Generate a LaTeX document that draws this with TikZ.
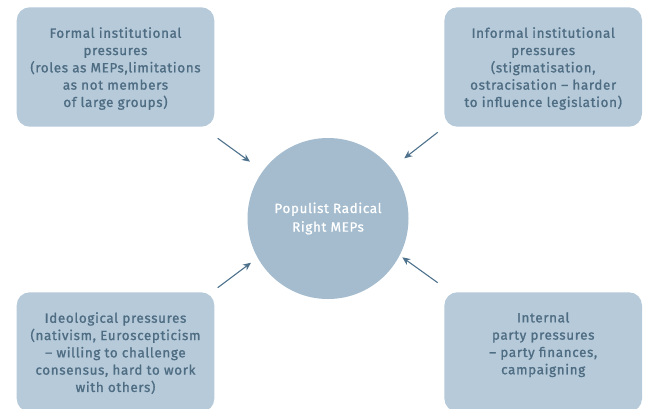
\documentclass[tikz,border=0pt]{standalone}
\usepackage{fontspec}
\setmainfont{Fira Sans}[LetterSpace=5.0, FakeBold=1.2]
\usepackage{tikz}
\usetikzlibrary{arrows.meta,positioning,calc}
\definecolor{prfill}{RGB}{182,202,218}
\definecolor{prhub}{RGB}{164,188,206}
\definecolor{prtext}{RGB}{78,108,130}
\definecolor{prarrow}{RGB}{78,114,140}
\tikzset{
  pbox/.style={fill=prfill, rounded corners=13pt, inner sep=0pt,
               minimum width=197.6pt, minimum height=119.4pt},
  ptext/.style={anchor=north, inner sep=0pt, align=center, text=prtext,
                font=\fontsize{13.4}{17.3}\selectfont},
  hub/.style={circle, fill=prhub, minimum size=161pt, inner sep=0pt,
              align=center, text=white, font=\fontsize{13.4}{18.6}\selectfont},
  pointer/.style={draw=prarrow, line width=1.1pt,
                  -{Stealth[length=8pt,width=7pt,inset=2.5pt]}},
}

\begin{document}
\begin{tikzpicture}[x=1pt, y=-1pt]
\useasboundingbox (0,0) rectangle (645,408);
\clip (0,0) rectangle (645,408);

% Centre: the MEP group
\node[hub] (prr) at (328,218.5) {Populist Radical\\Right MEPs};

% Four pressure boxes round it
\node[pbox] (formal)   at (115.5,67)  {};
\node[pbox] (informal) at (543.2,67)  {};
\node[pbox] (ideo)     at (115.5,352) {};
\node[pbox] (party)    at (543.2,352) {};

\node[ptext] (formaltxt) at ([yshift=-20pt]formal.north) {%
Formal institutional\\pressures\\(roles as MEPs,limitations\\as not members\\of large groups)};
\node[ptext] (informaltxt) at ([yshift=-20pt]informal.north) {%
Informal institutional\\pressures\\(stigmatisation,\\ostracisation -- harder\\to influence legislation)};
\node[ptext] (ideotxt) at ([yshift=-20pt]ideo.north) {%
Ideological pressures\\(nativism, Euroscepticism\\-- willing to challenge\\consensus, hard to work\\with others)};
\node[ptext] (partytxt) at ([yshift=-20pt]party.north) {%
Internal\\party pressures\\-- party finances,\\campaigning};

% arrow ends, set off from the hub
\coordinate (formalA)   at ([shift={(-110.3,-80.2)}]prr.center);
\coordinate (formalB)   at ([shift={(-78,-56.8)}]prr.center);
\coordinate (informalA) at ([shift={(109.7,-86.2)}]prr.center);
\coordinate (informalB) at ([shift={(76.3,-60.2)}]prr.center);
\coordinate (ideoA)     at ([shift={(-110.3,69.2)}]prr.center);
\coordinate (ideoB)     at ([shift={(-77,44.2)}]prr.center);
\coordinate (partyA)    at ([shift={(109.7,64.2)}]prr.center);
\coordinate (partyB)    at ([shift={(74.3,38.8)}]prr.center);

\draw[pointer] (formalA) -- (formalB);
\draw[pointer] (informalA) -- (informalB);
\draw[pointer] (ideoA) -- (ideoB);
\draw[pointer] (partyA) -- (partyB);
\end{tikzpicture}
\end{document}
